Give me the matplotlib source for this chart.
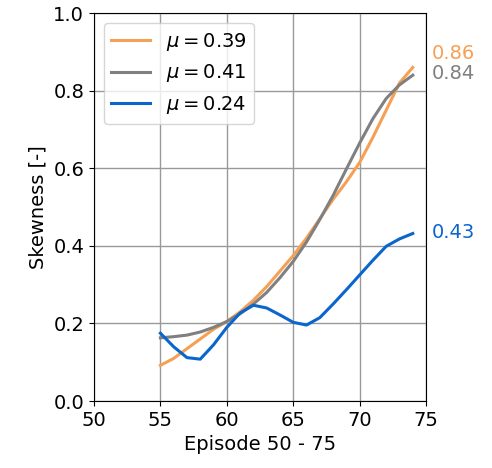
import matplotlib.pyplot as plt

episodes = list(range(55, 75))
skew_039 = [0.092, 0.11, 0.135, 0.16, 0.185, 0.205, 0.23, 0.26, 0.295, 0.335,
            0.375, 0.42, 0.47, 0.52, 0.565, 0.615, 0.68, 0.75, 0.82, 0.86]
skew_041 = [0.163, 0.166, 0.17, 0.178, 0.19, 0.205, 0.225, 0.25, 0.28, 0.318,
            0.36, 0.41, 0.468, 0.53, 0.598, 0.665, 0.728, 0.78, 0.815, 0.84]
skew_024 = [0.175, 0.14, 0.112, 0.108, 0.145, 0.19, 0.227, 0.247, 0.24, 0.222,
            0.203, 0.196, 0.215, 0.25, 0.287, 0.325, 0.363, 0.399, 0.418, 0.432]

series = [
    ('$\\mu = 0.39$', skew_039, '#f5a055', 0.895),
    ('$\\mu = 0.41$', skew_041, '#808080', 0.845),
    ('$\\mu = 0.24$', skew_024, '#0a66cc', 0.435),
]

fs = 14

fig = plt.figure(figsize=(4.92, 4.68), dpi=100)
ax = fig.add_axes([0.191, 0.143, 0.675, 0.829])

for label, vals, color, ytxt in series:
    ax.plot(episodes, vals, color=color, lw=2.2, label=label)
    ax.text(75.4, ytxt, '%.2f' % vals[-1], color=color, fontsize=fs, va='center', ha='left')

ax.set_xlim(50, 75)
ax.set_ylim(0, 1.0)
ax.set_xticks(range(50, 76, 5))
ax.set_yticks([0.0, 0.2, 0.4, 0.6, 0.8, 1.0])
ax.grid(True, color='#999999', lw=1)
ax.set_axisbelow(True)
ax.tick_params(labelsize=fs)
ax.set_xlabel('Episode 50 - 75', fontsize=fs)
ax.set_ylabel('Skewness [-]', fontsize=fs)
ax.legend(loc='upper left', fontsize=fs)

plt.savefig('out.png')
